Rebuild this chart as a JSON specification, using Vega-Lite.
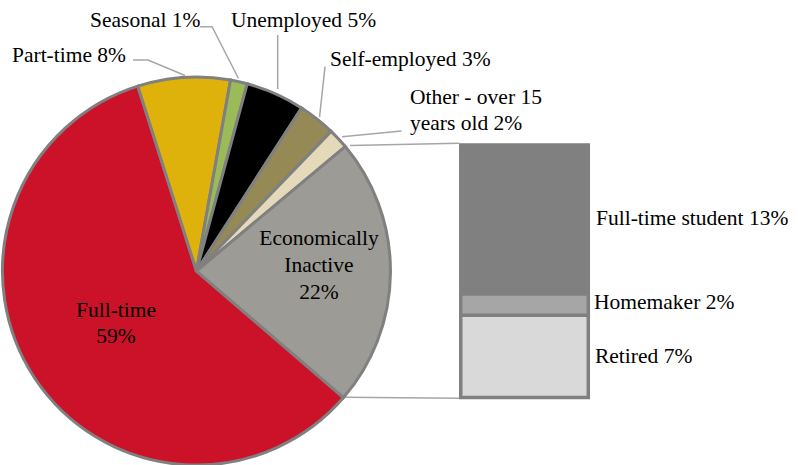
{
  "$schema": "https://vega.github.io/schema/vega-lite/v6.json",
  "width": 798,
  "height": 465,
  "autosize": "none",
  "padding": 0,
  "background": "white",
  "config": {
    "view": {"stroke": null},
    "text": {"font": "Liberation Serif", "fontSize": 21.5, "color": "#000000"}
  },
  "datasets": {
    "pie": [
      {"category": "Full-time", "value": 58.8, "order": 7},
      {"category": "Part-time", "value": 7.7, "order": 1},
      {"category": "Seasonal", "value": 1.4, "order": 2},
      {"category": "Unemployed", "value": 4.9, "order": 3},
      {"category": "Self-employed", "value": 3.1, "order": 4},
      {"category": "Other - over 15 years old", "value": 1.7, "order": 5},
      {"category": "Economically Inactive", "value": 22.4, "order": 6}
    ],
    "bar": [
      {"category": "Retired", "value": 7.3, "order": 1},
      {"category": "Homemaker", "value": 1.9, "order": 2},
      {"category": "Full-time student", "value": 13.2, "order": 3}
    ],
    "connectors": [
      {"x": 43.86, "y": 22.36, "x2": 57.52, "y2": 22.55},
      {"x": 43.05, "y": 0.02, "x2": 57.52, "y2": -0.07}
    ],
    "leaders": [
      {"grp": "Part-time", "i": 1, "x": 16.67, "y": 29.94},
      {"grp": "Part-time", "i": 2, "x": 18.55, "y": 29.94},
      {"grp": "Part-time", "i": 3, "x": 23.18, "y": 28.57},
      {"grp": "Seasonal", "i": 1, "x": 25.06, "y": 32.9},
      {"grp": "Seasonal", "i": 2, "x": 26.57, "y": 32.9},
      {"grp": "Seasonal", "i": 3, "x": 29.89, "y": 28.3},
      {"grp": "Unemployed", "i": 1, "x": 34.8, "y": 32.16},
      {"grp": "Unemployed", "i": 2, "x": 34.8, "y": 27.37},
      {"grp": "Self-employed", "i": 1, "x": 40.73, "y": 29.35},
      {"grp": "Self-employed", "i": 2, "x": 40.04, "y": 24.88},
      {"grp": "Other", "i": 1, "x": 42.86, "y": 23.14},
      {"grp": "Other", "i": 2, "x": 50.31, "y": 23.64}
    ],
    "labels": [
      {"text": "Part-time 8%", "x": 1.5, "y": 29.79, "anchor": "left"},
      {"text": "Seasonal 1%", "x": 11.28, "y": 32.9, "anchor": "left"},
      {"text": "Unemployed 5%", "x": 28.95, "y": 32.9, "anchor": "left"},
      {"text": "Self-employed 3%", "x": 41.35, "y": 29.41, "anchor": "left"},
      {"text": "Other - over 15", "x": 51.38, "y": 26.04, "anchor": "left"},
      {"text": "years old 2%", "x": 51.38, "y": 23.73, "anchor": "left"},
      {"text": "Economically", "x": 39.97, "y": 13.53, "anchor": "center"},
      {"text": "Inactive", "x": 39.97, "y": 11.16, "anchor": "center"},
      {"text": "22%", "x": 39.97, "y": 8.71, "anchor": "center"},
      {"text": "Full-time", "x": 14.54, "y": 7.17, "anchor": "center"},
      {"text": "59%", "x": 14.54, "y": 4.81, "anchor": "center"},
      {"text": "Full-time student 13%", "x": 74.69, "y": 15.3, "anchor": "left"},
      {"text": "Homemaker 2%", "x": 74.44, "y": 7.82, "anchor": "left"},
      {"text": "Retired 7%", "x": 74.56, "y": 3.03, "anchor": "left"}
    ]
  },
  "layer": [
    {
      "data": {"name": "connectors"},
      "mark": {"type": "rule", "color": "#A6A6A6", "strokeWidth": 1.5},
      "encoding": {
        "x": {"field": "x", "type": "quantitative", "scale": {"domain": [0, 100], "nice": false, "zero": false}, "axis": null},
        "y": {"field": "y", "type": "quantitative", "scale": {"domain": [-5.988, 35.265], "nice": false, "zero": false}, "axis": null},
        "x2": {"field": "x2"},
        "y2": {"field": "y2"}
      }
    },
    {
      "data": {"name": "pie"},
      "mark": {"type": "arc", "outerRadius": 194, "stroke": "#808080", "strokeWidth": 3},
      "encoding": {
        "x": {"datum": 24.62, "type": "quantitative"},
        "y": {"datum": 11.22, "type": "quantitative"},
        "theta": {"field": "value", "type": "quantitative", "stack": true, "scale": {"range": [5.976, 12.259]}},
        "order": {"field": "order", "type": "quantitative"},
        "color": {
          "field": "category", "type": "nominal", "legend": null,
          "scale": {
            "domain": ["Full-time", "Part-time", "Seasonal", "Unemployed", "Self-employed", "Other - over 15 years old", "Economically Inactive", "Full-time student", "Homemaker", "Retired"],
            "range": ["#CC1228", "#DEB20A", "#9BBB59", "#000000", "#958A56", "#E4DABA", "#9D9B95", "#808080", "#A6A6A6", "#D9D9D9"]
          }
        }
      }
    },
    {
      "data": {"name": "bar"},
      "transform": [
        {"stack": "value", "groupby": [], "sort": [{"field": "order", "order": "ascending"}], "as": ["y0", "y1"]}
      ],
      "mark": {"type": "rect", "stroke": "#808080", "strokeWidth": 3.5},
      "encoding": {
        "x": {"datum": 57.74, "type": "quantitative"},
        "x2": {"datum": 73.72},
        "y": {"field": "y0", "type": "quantitative"},
        "y2": {"field": "y1"},
        "color": {"field": "category", "type": "nominal", "legend": null}
      }
    },
    {
      "data": {"name": "leaders"},
      "mark": {"type": "line", "color": "#A6A6A6", "strokeWidth": 1.5},
      "encoding": {
        "x": {"field": "x", "type": "quantitative"},
        "y": {"field": "y", "type": "quantitative"},
        "detail": {"field": "grp"},
        "order": {"field": "i", "type": "quantitative"}
      }
    },
    {
      "data": {"name": "labels"},
      "transform": [{"filter": "datum.anchor === 'left'"}],
      "mark": {"type": "text", "align": "left", "baseline": "alphabetic"},
      "encoding": {
        "x": {"field": "x", "type": "quantitative"},
        "y": {"field": "y", "type": "quantitative"},
        "text": {"field": "text"}
      }
    },
    {
      "data": {"name": "labels"},
      "transform": [{"filter": "datum.anchor === 'center'"}],
      "mark": {"type": "text", "align": "center", "baseline": "alphabetic"},
      "encoding": {
        "x": {"field": "x", "type": "quantitative"},
        "y": {"field": "y", "type": "quantitative"},
        "text": {"field": "text"}
      }
    }
  ]
}
